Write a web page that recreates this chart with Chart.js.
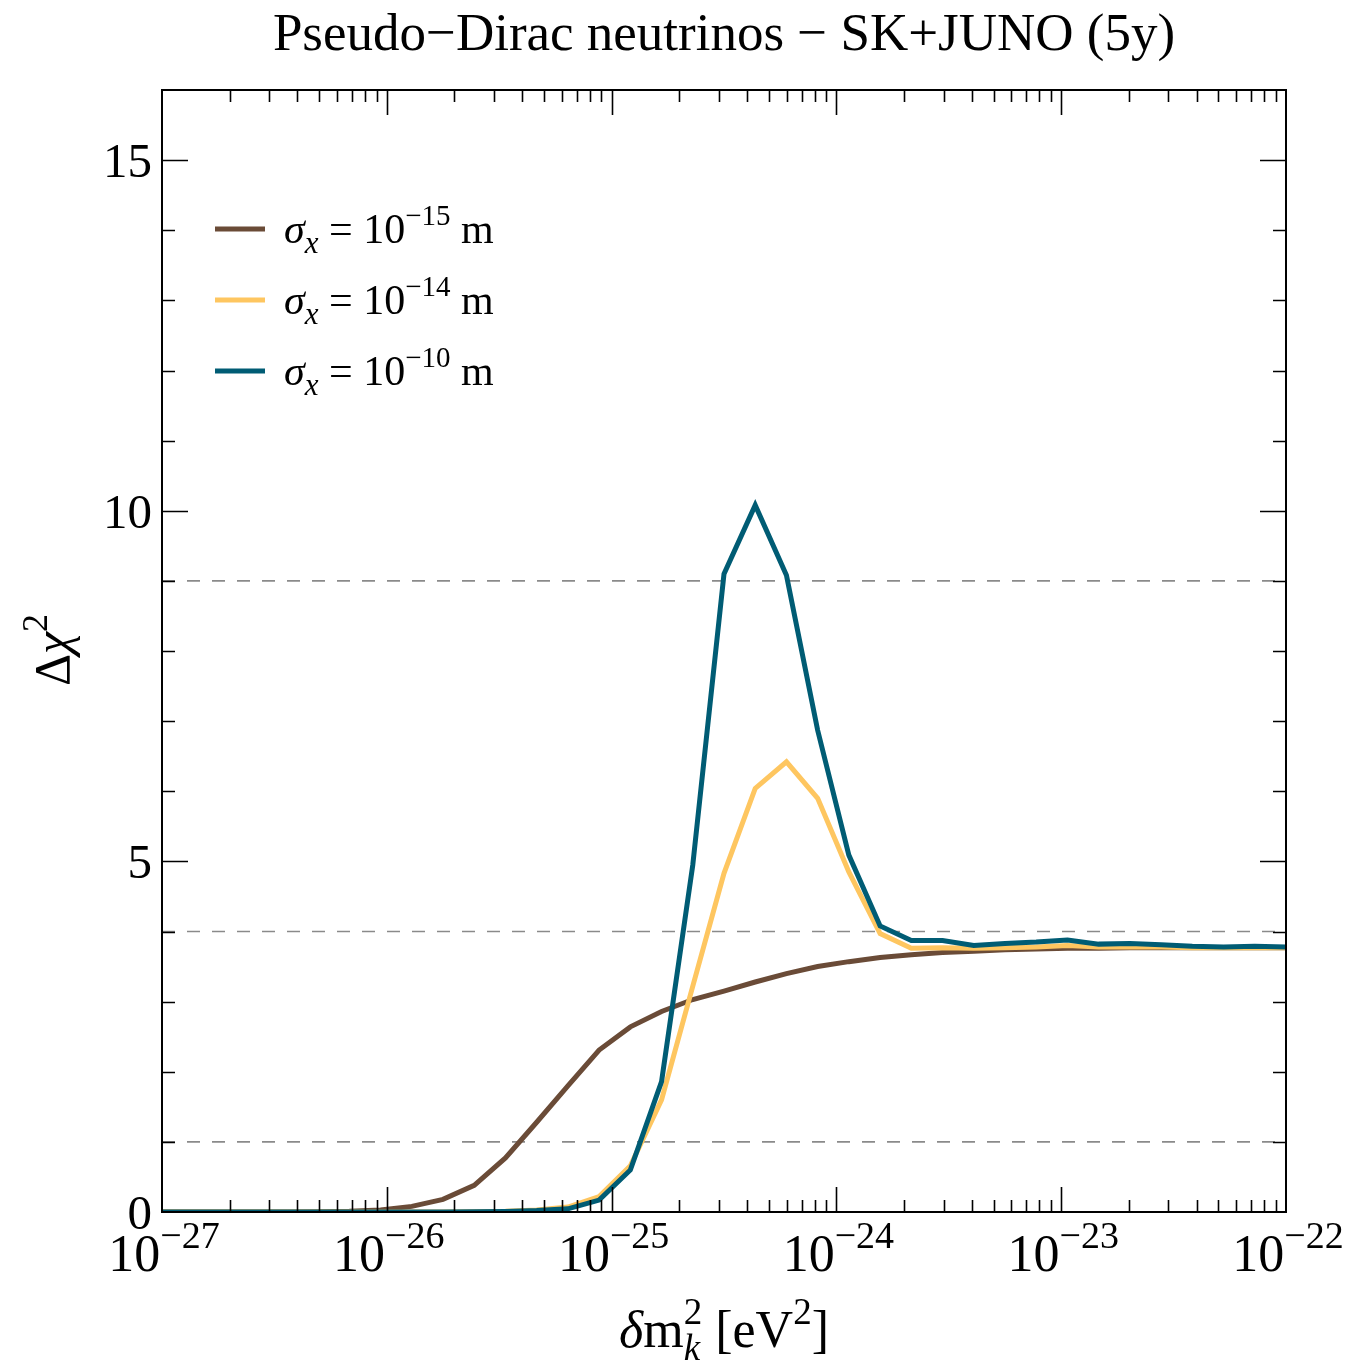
<!DOCTYPE html>
<html>
<head>
<meta charset="utf-8">
<script src="https://cdn.jsdelivr.net/npm/chart.js@4.4.1/dist/chart.umd.min.js"></script>
<style>
html,body{margin:0;padding:0;background:#fff;}
#wrap{width:1347px;height:1362px;position:relative;}
</style>
</head>
<body>
<div id="wrap"><canvas id="c" width="1347" height="1362"></canvas></div>
<script>
// ---- data ----
const dm2 = [1.000e-27,1.377e-27,1.896e-27,2.610e-27,3.594e-27,4.948e-27,6.813e-27,9.380e-27,
  1.292e-26,1.778e-26,2.448e-26,3.371e-26,4.642e-26,6.390e-26,8.799e-26,
  1.212e-25,1.668e-25,2.297e-25,3.162e-25,4.354e-25,5.995e-25,8.254e-25,
  1.136e-24,1.565e-24,2.154e-24,2.966e-24,4.084e-24,5.623e-24,7.743e-24,
  1.066e-23,1.468e-23,2.021e-23,2.783e-23,3.831e-23,5.275e-23,7.263e-23,1.000e-22];
const chi2_s15 = [0,0,0,0,0,0.005,0.01,0.03,0.08,0.18,0.38,0.77,1.28,1.80,2.31,2.64,2.86,3.03,3.15,3.28,3.40,3.50,3.57,3.63,3.67,3.70,3.72,3.74,3.75,3.76,3.76,3.77,3.77,3.77,3.77,3.77,3.77];
const chi2_s14 = [0,0,0,0,0,0,0,0,0,0,0.003,0.01,0.03,0.07,0.22,0.66,1.60,3.22,4.83,6.04,6.42,5.90,4.85,3.97,3.76,3.77,3.76,3.77,3.78,3.80,3.78,3.78,3.78,3.77,3.77,3.77,3.77];
const chi2_s10 = [0,0,0,0,0,0,0,0,0,0,0.003,0.008,0.02,0.045,0.17,0.60,1.86,4.95,9.10,10.08,9.08,6.87,5.09,4.08,3.87,3.87,3.80,3.83,3.85,3.88,3.82,3.83,3.81,3.79,3.78,3.79,3.78];
const refLevels = [1, 4, 9];
const legendExps = ['−15', '−14', '−10'];
const xMin = 1e-27, xMax = 1e-22;
const yMin = 0, yMax = 16;
const yMajorTicks = [0, 5, 10, 15];
const xDecades = [-27, -26, -25, -24, -23, -22];

const colors = ['#6a4b37', '#fec660', '#005c74'];
const SERIF = '"Liberation Serif","DejaVu Serif",serif';

function pts(ys){ return dm2.map((x,i)=>({x:x, y:ys[i]})); }

const datasets = [
  {label:'s15', data:pts(chi2_s15), borderColor:colors[0], order:3},
  {label:'s14', data:pts(chi2_s14), borderColor:colors[1], order:2},
  {label:'s10', data:pts(chi2_s10), borderColor:colors[2], order:1}
].map(d=>Object.assign(d,{borderWidth:5, pointRadius:0, tension:0, fill:false, borderJoinStyle:'miter', borderCapStyle:'butt'}));

refLevels.forEach(v=>{
  datasets.push({label:'ref'+v, data:[{x:xMin,y:v},{x:xMax,y:v}], borderColor:'#8a8a8a', borderWidth:1.6,
    borderDash:[13,12], pointRadius:0, tension:0, fill:false, order:10});
});

function font(size, italic){ return (italic?'italic ':'') + size + 'px ' + SERIF; }

function partWidth(ctx,p){
  if(p.sup!==undefined){
    ctx.font = font(p.size,false); const a = ctx.measureText(p.sup).width;
    ctx.font = font(p.size,true); const b = ctx.measureText(p.sub).width;
    return Math.max(a,b);
  }
  ctx.font = font(p.size,p.italic); return ctx.measureText(p.t).width;
}
function drawRich(ctx, parts, x, y, align){
  const widths = parts.map(p=>partWidth(ctx,p));
  const total = widths.reduce((a,b)=>a+b,0);
  let cx = align==='center' ? x-total/2 : (align==='right' ? x-total : x);
  ctx.textAlign='left'; ctx.textBaseline='alphabetic'; ctx.fillStyle='#000';
  parts.forEach((p,i)=>{
    if(p.sup!==undefined){
      ctx.font = font(p.size,false); ctx.fillText(p.sup, cx, y+p.supDy);
      ctx.font = font(p.size,true); ctx.fillText(p.sub, cx, y+p.subDy);
    } else {
      ctx.font = font(p.size,p.italic); ctx.fillText(p.t, cx, y+(p.dy||0));
    }
    cx += widths[i];
  });
  return total;
}

const decor = {
  id:'decor',
  afterDatasetsDraw(chart){
    const ctx = chart.ctx, a = chart.chartArea, xs = chart.scales.x, ys = chart.scales.y;
    ctx.save();
    ctx.strokeStyle='#000'; ctx.lineWidth=2;
    ctx.strokeRect(a.left, a.top, a.right-a.left, a.bottom-a.top);
    ctx.lineWidth=1.6;
    for(let v=yMin; v<=yMax; v++){
      const py = Math.round(ys.getPixelForValue(v))+0.5;
      if(v===yMin||v===yMax) continue;
      const L = (v%5===0)?26:13;
      ctx.beginPath();
      ctx.moveTo(a.left,py); ctx.lineTo(a.left+L,py);
      ctx.moveTo(a.right,py); ctx.lineTo(a.right-L,py);
      ctx.stroke();
    }
    xDecades.forEach(d=>{
      for(let m=1;m<=9;m++){
        if(d===xDecades[xDecades.length-1] && m>1) break;
        const v = m*Math.pow(10,d);
        const px = Math.round(xs.getPixelForValue(v))+0.5;
        if(px<=a.left+1 || px>=a.right-1) continue;
        const L = (m===1)?25:12;
        ctx.beginPath();
        ctx.moveTo(px,a.bottom); ctx.lineTo(px,a.bottom-L);
        ctx.moveTo(px,a.top); ctx.lineTo(px,a.top+L);
        ctx.stroke();
      }
    });
    yMajorTicks.forEach(v=>{
      const py = ys.getPixelForValue(v);
      drawRich(ctx,[{t:String(v),size:49}],152,py+17,'right');
    });
    xDecades.forEach(d=>{
      const px = xs.getPixelForValue(Math.pow(10,d));
      drawRich(ctx,[{t:'10',size:52},{t:'−'+String(-d),size:38,dy:-23}],px+2,1271,'center');
    });
    drawRich(ctx,[{t:'Pseudo−Dirac neutrinos − SK+JUNO (5y)',size:53}],724,50,'center');
    drawRich(ctx,[{t:'δ',size:52,italic:true},{t:'m',size:52},{sup:'2',sub:'k',size:37,supDy:-23,subDy:13},
      {t:' [eV',size:52},{t:'2',size:37,dy:-23},{t:']',size:52}],724,1347,'center');
    ctx.save();
    ctx.translate(69,650); ctx.rotate(-Math.PI/2);
    drawRich(ctx,[{t:'Δ',size:50},{t:'χ',size:50,italic:true},{t:'2',size:36,dy:-22}],0,0,'center');
    ctx.restore();
    const rows=[229,300,371];
    rows.forEach((ry,i)=>{
      ctx.strokeStyle=colors[i]; ctx.lineWidth=5; ctx.setLineDash([]);
      ctx.beginPath(); ctx.moveTo(215,ry); ctx.lineTo(265,ry); ctx.stroke();
      drawRich(ctx,[{t:'σ',size:42,italic:true},{t:'x',size:31,italic:true,dy:10},{t:' = 10',size:42},
        {t:legendExps[i],size:29,dy:-18},{t:' m',size:42}],284,ry+14,'left');
    });
    ctx.restore();
  }
};

new Chart(document.getElementById('c'),{
  type:'line',
  data:{datasets:datasets},
  options:{
    responsive:false, animation:false, events:[],
    layout:{padding:{left:162,right:61,top:90,bottom:150}},
    plugins:{legend:{display:false},tooltip:{enabled:false},title:{display:false}},
    scales:{
      x:{type:'logarithmic',min:xMin,max:xMax,display:false},
      y:{type:'linear',min:yMin,max:yMax,display:false}
    }
  },
  plugins:[decor]
});
</script>
</body>
</html>
